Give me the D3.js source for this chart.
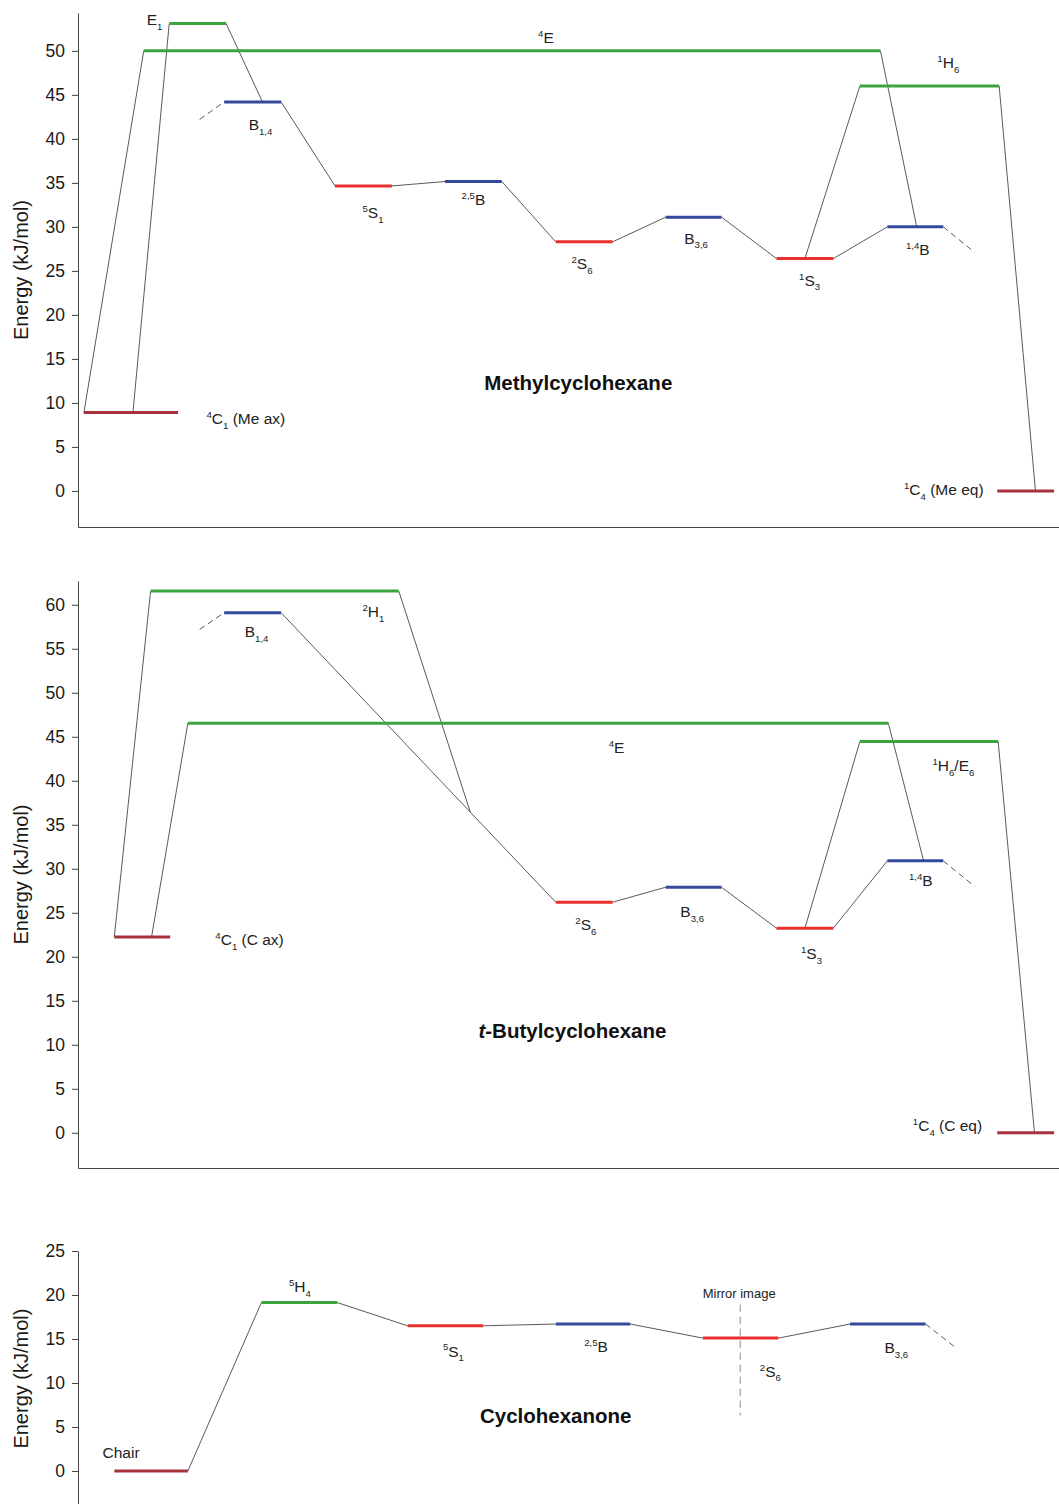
<!DOCTYPE html>
<html>
<head>
<meta charset="utf-8">
<script src="https://cdn.jsdelivr.net/npm/d3@7"></script>
<style>
  body { margin: 0; background: #fff; }
  text { font-family: "Liberation Sans", Arial, Helvetica, sans-serif; }
</style>
</head>
<body>
<div id="chart"></div>
<script>
// x is an arbitrary reaction coordinate (0..100), energies in kJ/mol

// ---- Methylcyclohexane ----
var mchLevels = [
  {id: "4C1", x0: 0.6,  x1: 10.2, e: 8.9,   kind: "chair"},
  {id: "E1",  x0: 9.3,  x1: 15.1, e: 53.1,  kind: "half"},
  {id: "4E",  x0: 6.7,  x1: 81.8, e: 50.0,  kind: "half"},
  {id: "B14", x0: 14.9, x1: 20.7, e: 44.2,  kind: "boat"},
  {id: "5S1", x0: 26.2, x1: 32.0, e: 34.65, kind: "skew"},
  {id: "25B", x0: 37.4, x1: 43.2, e: 35.15, kind: "boat"},
  {id: "2S6", x0: 48.7, x1: 54.5, e: 28.3,  kind: "skew"},
  {id: "B36", x0: 59.9, x1: 65.6, e: 31.1,  kind: "boat"},
  {id: "1S3", x0: 71.2, x1: 77.0, e: 26.4,  kind: "skew"},
  {id: "14B", x0: 82.5, x1: 88.2, e: 30.0,  kind: "boat"},
  {id: "1H6", x0: 79.7, x1: 93.9, e: 46.0,  kind: "half"},
  {id: "1C4", x0: 93.7, x1: 99.5, e: 0.0,   kind: "chair"}
];
var mchLinks = [
  [["4C1", "l"], ["4E", "l"]],
  [["4C1", 5.6], ["E1", "l"]],
  [["E1", "r"], ["B14", 18.8]],
  [["B14", "r"], ["5S1", "l"]],
  [["5S1", "r"], ["25B", "l"]],
  [["25B", "r"], ["2S6", "l"]],
  [["2S6", "r"], ["B36", "l"]],
  [["B36", "r"], ["1S3", "l"]],
  [["1S3", "r"], ["14B", "l"]],
  [["1S3", 74.1], ["1H6", "l"]],
  [["4E", "r"], ["14B", 85.5]],
  [["1H6", "r"], ["1C4", 97.6]]
];
var mchStubs = [
  [[12.4, 42.2], ["B14", "l"]],
  [["14B", "r"], [91.4, 27.1]]
];
var mchLabels = [
  {t: "E_{1}", x: 7.0, e: 52.95},
  {t: "^{4}E", x: 46.9, e: 50.9},
  {t: "B_{1,4}", x: 17.4, e: 41.0},
  {t: "^{4}C_{1} (Me ax)", x: 13.1, e: 7.6},
  {t: "^{5}S_{1}", x: 29.0, e: 31.0},
  {t: "^{2,5}B", x: 39.1, e: 32.5},
  {t: "^{2}S_{6}", x: 50.3, e: 25.2},
  {t: "B_{3,6}", x: 61.8, e: 28.1},
  {t: "^{1}S_{3}", x: 73.5, e: 23.3},
  {t: "^{1,4}B", x: 84.4, e: 26.8},
  {t: "^{1}H_{6}", x: 87.6, e: 48.0},
  {t: "^{1}C_{4} (Me eq)", x: 84.2, e: -0.45}
];

// ---- t-Butylcyclohexane ----
var tbchLevels = [
  {id: "4C1",   x0: 3.7,  x1: 9.4,  e: 22.25, kind: "chair"},
  {id: "2H1",   x0: 7.4,  x1: 32.7, e: 61.55, kind: "half"},
  {id: "B14",   x0: 14.9, x1: 20.7, e: 59.1,  kind: "boat"},
  {id: "4E",    x0: 11.2, x1: 82.6, e: 46.55, kind: "half"},
  {id: "2S6",   x0: 48.7, x1: 54.5, e: 26.2,  kind: "skew"},
  {id: "B36",   x0: 59.9, x1: 65.6, e: 27.9,  kind: "boat"},
  {id: "1S3",   x0: 71.2, x1: 77.0, e: 23.25, kind: "skew"},
  {id: "14B",   x0: 82.5, x1: 88.2, e: 30.9,  kind: "boat"},
  {id: "1H6E6", x0: 79.7, x1: 93.8, e: 44.45, kind: "half"},
  {id: "1C4",   x0: 93.7, x1: 99.5, e: 0.0,   kind: "chair"}
];
var tbchLinks = [
  [["4C1", "l"], ["2H1", "l"]],
  [["4C1", 7.5], ["4E", "l"]],
  [["B14", "r"], ["2S6", "l"]],
  [["2H1", "r"], [40.0, 36.4]],
  [["2S6", "r"], ["B36", "l"]],
  [["B36", "r"], ["1S3", "l"]],
  [["1S3", "r"], ["14B", "l"]],
  [["1S3", 74.1], ["1H6E6", "l"]],
  [["4E", "r"], ["14B", 86.2]],
  [["1H6E6", "r"], ["1C4", 97.5]]
];
var tbchStubs = [
  [[12.4, 57.2], ["B14", "l"]],
  [["14B", "r"], [91.4, 28.0]]
];
var tbchLabels = [
  {t: "^{2}H_{1}", x: 29.0, e: 58.6},
  {t: "B_{1,4}", x: 17.0, e: 56.3},
  {t: "^{4}C_{1} (C ax)", x: 14.0, e: 21.3},
  {t: "^{4}E", x: 54.1, e: 43.1},
  {t: "^{2}S_{6}", x: 50.7, e: 23.0},
  {t: "B_{3,6}", x: 61.4, e: 24.5},
  {t: "^{1}S_{3}", x: 73.7, e: 19.7},
  {t: "^{1,4}B", x: 84.7, e: 28.0},
  {t: "^{1}H_{6}/E_{6}", x: 87.1, e: 41.1},
  {t: "^{1}C_{4} (C eq)", x: 85.1, e: 0.2}
];

// ---- Cyclohexanone ----
var chxLevels = [
  {id: "Chair", x0: 3.7,  x1: 11.2, e: 0.0,   kind: "chair"},
  {id: "5H4",   x0: 18.7, x1: 26.4, e: 19.15, kind: "half"},
  {id: "5S1",   x0: 33.6, x1: 41.3, e: 16.5,  kind: "skew"},
  {id: "25B",   x0: 48.7, x1: 56.3, e: 16.7,  kind: "boat"},
  {id: "2S6",   x0: 63.7, x1: 71.4, e: 15.1,  kind: "skew"},
  {id: "B36",   x0: 78.7, x1: 86.4, e: 16.7,  kind: "boat"}
];
var chxLinks = [
  [["Chair", "r"], ["5H4", "l"]],
  [["5H4", "r"], ["5S1", "l"]],
  [["5S1", "r"], ["25B", "l"]],
  [["25B", "r"], ["2S6", "l"]],
  [["2S6", "r"], ["B36", "l"]]
];
var chxStubs = [
  [["B36", "r"], [89.6, 13.9]]
];
var chxLabels = [
  {t: "Chair", x: 2.5, e: 1.5},
  {t: "^{5}H_{4}", x: 21.5, e: 20.3},
  {t: "^{5}S_{1}", x: 37.2, e: 13.0},
  {t: "^{2,5}B", x: 51.6, e: 13.55},
  {t: "^{2}S_{6}", x: 69.5, e: 10.7},
  {t: "B_{3,6}", x: 82.2, e: 13.4}
];
var chxMirror = {x: 67.5, e0: 18.9, e1: 6.3, t: "Mirror image", labelE: 19.7};

var titles = ["Methylcyclohexane", "*{t}-Butylcyclohexane", "Cyclohexanone"];
var titleAt = [[51.0, 11.5], [50.4, 10.75], [48.7, 5.45]];

var colors = {chair: "#a8323c", half: "#3ca43c", skew: "#e8302e", boat: "#34499c"};

var panels = [
  {levels: mchLevels, links: mchLinks, stubs: mchStubs, labels: mchLabels,
   yDomain: [-4.1, 54.3], top: 13, bottom: 527, ticks: d3.range(0, 51, 5), xAxis: true},
  {levels: tbchLevels, links: tbchLinks, stubs: tbchStubs, labels: tbchLabels,
   yDomain: [-4.0, 62.7], top: 581, bottom: 1168, ticks: d3.range(0, 61, 5), xAxis: true},
  {levels: chxLevels, links: chxLinks, stubs: chxStubs, labels: chxLabels,
   yDomain: [-4.0, 25.0], top: 1251, bottom: 1506.2, ticks: d3.range(0, 26, 5), xAxis: false,
   mirror: chxMirror}
];

var W = 1059, H = 1504, left = 78;

var svg = d3.select("#chart").append("svg")
  .attr("width", W).attr("height", H);

var x = d3.scaleLinear().domain([0, 100]).range([left, W]);

// write "^{sup}" "_{sub}" "*{italic}" markup as tspans
function richText(sel, markup, size) {
  var re = /([\^_*])\{([^}]*)\}|([^\^_*]+)/g, m, shift = 0;
  while ((m = re.exec(markup))) {
    var kind = m[1] || "";
    var str = m[2] !== undefined ? m[2] : m[3];
    var target = kind == "^" ? -0.4 * size : kind == "_" ? 0.3 * size : 0;
    var ts = sel.append("tspan").attr("dy", target - shift).text(str);
    if (kind == "^" || kind == "_") ts.attr("font-size", size * 0.62);
    if (kind == "*") ts.attr("font-style", "italic");
    shift = target;
  }
}

panels.forEach(function(p, i) {
  var y = d3.scaleLinear().domain(p.yDomain).range([p.bottom, p.top]);
  var byId = {};
  p.levels.forEach(function(d) { byId[d.id] = d; });

  function pt(ref) {
    if (typeof ref[0] != "string") return [x(ref[0]), y(ref[1])];
    var lv = byId[ref[0]];
    var xv = ref[1] == "l" ? lv.x0 : ref[1] == "r" ? lv.x1 : ref[1];
    return [x(xv), y(lv.e)];
  }

  var g = svg.append("g");

  // y axis
  var ax = g.append("g")
    .attr("transform", "translate(" + left + ",0)")
    .call(d3.axisLeft(y).tickValues(p.ticks).tickSize(6).tickPadding(7).tickSizeOuter(0));
  ax.select(".domain").attr("stroke", "#444");
  ax.selectAll(".tick line").attr("stroke", "#444");
  ax.selectAll(".tick text")
    .attr("font-size", 17.5).attr("fill", "#1a1a1a")
    .attr("font-family", "'Liberation Sans', Arial, sans-serif");

  // bottom line
  if (p.xAxis) {
    var bx = g.append("g")
      .attr("transform", "translate(0," + p.bottom + ")")
      .call(d3.axisBottom(x).tickValues([]).tickSizeOuter(0));
    bx.select(".domain").attr("stroke", "#444");
  }

  g.append("text")
    .attr("transform", "translate(28," + (p.top + p.bottom) / 2 + ") rotate(-90)")
    .attr("text-anchor", "middle")
    .attr("font-size", 20).attr("fill", "#1a1a1a")
    .text("Energy (kJ/mol)");

  // connectors
  g.selectAll(".link").data(p.links).enter().append("line")
    .attr("x1", function(d) { return pt(d[0])[0]; })
    .attr("y1", function(d) { return pt(d[0])[1]; })
    .attr("x2", function(d) { return pt(d[1])[0]; })
    .attr("y2", function(d) { return pt(d[1])[1]; })
    .attr("stroke", "#5a5a5a").attr("stroke-width", 1);

  g.selectAll(".stub").data(p.stubs).enter().append("line")
    .attr("x1", function(d) { return pt(d[0])[0]; })
    .attr("y1", function(d) { return pt(d[0])[1]; })
    .attr("x2", function(d) { return pt(d[1])[0]; })
    .attr("y2", function(d) { return pt(d[1])[1]; })
    .attr("stroke", "#5a5a5a").attr("stroke-width", 1)
    .attr("stroke-dasharray", "6,4");

  if (p.mirror) {
    g.append("line")
      .attr("x1", x(p.mirror.x)).attr("x2", x(p.mirror.x))
      .attr("y1", y(p.mirror.e0)).attr("y2", y(p.mirror.e1))
      .attr("stroke", "#888").attr("stroke-width", 1)
      .attr("stroke-dasharray", "7,5");
    g.append("text")
      .attr("x", x(p.mirror.x) - 1).attr("y", y(p.mirror.labelE))
      .attr("text-anchor", "middle").attr("font-size", 13).attr("fill", "#222")
      .text(p.mirror.t);
  }

  // energy levels
  g.selectAll(".level").data(p.levels).enter().append("line")
    .attr("x1", function(d) { return x(d.x0); })
    .attr("x2", function(d) { return x(d.x1); })
    .attr("y1", function(d) { return y(d.e); })
    .attr("y2", function(d) { return y(d.e); })
    .attr("stroke", function(d) { return colors[d.kind]; })
    .attr("stroke-width", 3);

  // labels
  p.labels.forEach(function(l) {
    var t = g.append("text")
      .attr("x", x(l.x)).attr("y", y(l.e))
      .attr("font-size", 15.5).attr("fill", "#222");
    richText(t, l.t, 15.5);
  });

  var tt = g.append("text")
    .attr("x", x(titleAt[i][0])).attr("y", y(titleAt[i][1]))
    .attr("text-anchor", "middle")
    .attr("font-size", 20.5).attr("font-weight", "bold").attr("fill", "#111");
  richText(tt, titles[i], 20.5);
});
</script>
</body>
</html>
